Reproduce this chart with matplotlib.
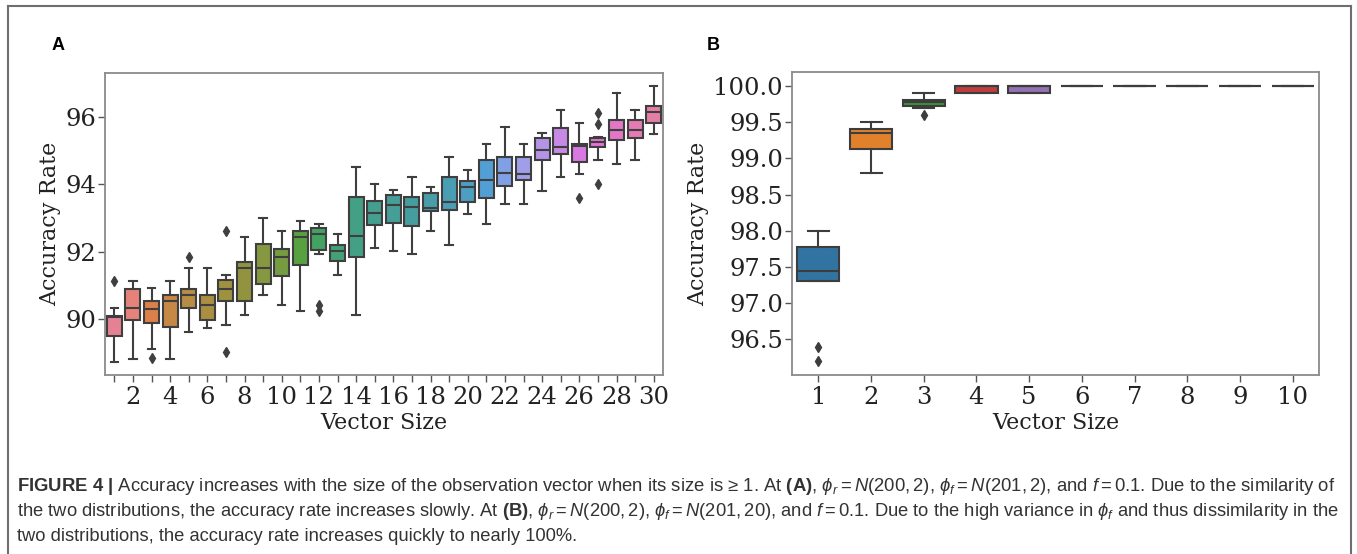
import colorsys
import matplotlib
matplotlib.use("Agg")
import matplotlib.pyplot as plt
import matplotlib.colors as mcolors
from matplotlib.lines import Line2D
import seaborn as sns

# ---------------- data ----------------
# Panel A: vector sizes 1..30
a_sizes = list(range(1, 31))
a_whislo = [88.73, 88.82, 89.12, 88.82, 89.62, 89.72, 89.81, 90.12, 90.71, 90.41,
            90.23, 91.93, 91.32, 90.12, 92.11, 92.01, 91.92, 92.61, 92.21, 93.11,
            92.81, 93.41, 93.41, 93.80, 94.20, 94.30, 94.71, 94.59, 94.71, 95.50]
a_q1 = [89.50, 89.97, 89.89, 89.77, 90.33, 89.96, 90.54, 90.54, 91.03, 91.29,
        91.59, 92.04, 91.73, 91.83, 92.79, 92.85, 92.77, 93.21, 93.23, 93.48,
        93.60, 93.94, 94.14, 94.73, 94.91, 94.65, 95.09, 95.32, 95.38, 95.82]
a_med = [90.07, 90.34, 90.29, 90.54, 90.72, 90.43, 90.88, 91.51, 91.51, 91.83,
         92.42, 92.52, 92.02, 92.47, 93.15, 93.37, 93.33, 93.30, 93.48, 93.92,
         94.12, 94.32, 94.30, 95.03, 95.11, 95.13, 95.26, 95.60, 95.60, 96.14]
a_q3 = [90.09, 90.88, 90.54, 90.71, 90.88, 90.71, 91.16, 91.69, 92.22, 92.08,
        92.61, 92.69, 92.19, 93.62, 93.50, 93.68, 93.63, 93.75, 94.20, 94.09,
        94.71, 94.81, 94.81, 95.37, 95.68, 95.19, 95.36, 95.90, 95.90, 96.31]
a_whishi = [90.32, 91.13, 90.92, 91.13, 91.51, 91.51, 91.32, 92.42, 93.01, 92.61,
            92.91, 92.81, 92.52, 94.51, 94.00, 93.82, 94.22, 93.91, 94.81, 94.41,
            95.20, 95.70, 95.20, 95.52, 96.21, 95.82, 95.40, 96.71, 96.21, 96.90]
a_fliers = [[91.13], [], [88.83], [], [91.83], [], [92.61, 89.01], [], [], [],
            [], [90.42, 90.24], [], [], [], [], [], [], [], [],
            [], [], [], [], [], [93.60], [96.12, 95.80, 94.00], [], [], []]
a_ticklabels = [str(s) if s % 2 == 0 else "" for s in a_sizes]

# Panel B: vector sizes 1..10
b_sizes = list(range(1, 11))
b_whislo = [97.30, 98.80, 99.70, 99.90, 99.90, 100.0, 100.0, 100.0, 100.0, 100.0]
b_q1 = [97.30, 99.13, 99.72, 99.90, 99.90, 100.0, 100.0, 100.0, 100.0, 100.0]
b_med = [97.44, 99.35, 99.77, 100.0, 100.0, 100.0, 100.0, 100.0, 100.0, 100.0]
b_q3 = [97.77, 99.40, 99.81, 100.0, 100.0, 100.0, 100.0, 100.0, 100.0, 100.0]
b_whishi = [98.00, 99.50, 99.90, 100.0, 100.0, 100.0, 100.0, 100.0, 100.0, 100.0]
b_fliers = [[96.40, 96.20], [], [99.60], [], [], [], [], [], [], []]
b_ticklabels = [str(s) for s in b_sizes]

caption_lines = [
    r"$\mathbf{FIGURE\ 4\ |}$ Accuracy increases with the size of the observation vector when its size is ≥ 1. At $\mathbf{(A)}$, "
    r"$\phi_r = N(200, 2)$, $\phi_f = N(201, 2)$, and $f = 0.1$. Due to the similarity of",
    r"the two distributions, the accuracy rate increases slowly. At $\mathbf{(B)}$, $\phi_r = N(200, 2)$, "
    r"$\phi_f = N(201, 20)$, and $f = 0.1$. Due to the high variance in $\phi_f$ and thus dissimilarity in the",
    r"two distributions, the accuracy rate increases quickly to nearly 100%.",
]

# ---------------- style ----------------
plt.rcParams["mathtext.fontset"] = "custom"
plt.rcParams["mathtext.rm"] = "Liberation Sans"
plt.rcParams["mathtext.it"] = "Liberation Sans:italic"
plt.rcParams["mathtext.bf"] = "Liberation Sans:bold"
SERIF = "DejaVu Serif"
SPINE = "#8a8a8a"
TICKSIZE = 17.5


def seaborn_colors(base):
    cols = [sns.desaturate(c, 0.75) for c in base]
    lum = min(colorsys.rgb_to_hls(*c)[1] for c in cols) * 0.6
    return cols, mcolors.rgb2hex((lum, lum, lum))


def draw_panel(ax, whislo, q1, med, q3, whishi, fliers, colors, gray):
    stats = []
    for i in range(len(med)):
        stats.append(dict(whislo=whislo[i], q1=q1[i], med=med[i], q3=q3[i],
                          whishi=whishi[i], fliers=fliers[i]))
    lw = 1.5
    bp = ax.bxp(stats, positions=list(range(len(stats))), widths=0.8,
                patch_artist=True, showfliers=True,
                boxprops=dict(linewidth=lw, edgecolor=gray),
                medianprops=dict(color=gray, linewidth=lw),
                whiskerprops=dict(color=gray, linewidth=lw),
                capprops=dict(color=gray, linewidth=lw),
                flierprops=dict(marker="d", markersize=5, markerfacecolor=gray,
                                markeredgecolor=gray, linestyle="none"))
    for patch, c in zip(bp["boxes"], colors):
        patch.set_facecolor(c)
        patch.set_edgecolor(gray)
    for sp in ax.spines.values():
        sp.set_color(SPINE)
        sp.set_linewidth(1.3)
    ax.tick_params(axis="both", colors="#555555", labelcolor="#222222",
                   labelsize=TICKSIZE, length=5, width=1.0)
    ax.tick_params(axis="y", pad=1.5)
    ax.tick_params(axis="x", pad=3)
    ax.set_xlabel("Vector Size", fontsize=16, fontfamily=SERIF, color="#222222", labelpad=2)
    ax.set_ylabel("Accuracy Rate", fontsize=16, fontfamily=SERIF, color="#222222", labelpad=3)


fig = plt.figure(figsize=(13.57, 5.54), dpi=100)
fig.patch.set_facecolor("white")

# Panel A
axA = fig.add_axes([105 / 1357, 1 - 375 / 554, 558 / 1357, 302 / 554])
colA, grayA = seaborn_colors(sns.husl_palette(len(a_sizes)))
draw_panel(axA, a_whislo, a_q1, a_med, a_q3, a_whishi, a_fliers, colA, grayA)
axA.set_xlim(-0.5, len(a_sizes) - 0.5)
axA.set_ylim(88.34, 97.30)
axA.set_xticks(range(len(a_sizes)))
axA.set_xticklabels(a_ticklabels, fontfamily=SERIF, fontsize=TICKSIZE)
axA.set_yticks([90, 92, 94, 96])
axA.set_yticklabels(["90", "92", "94", "96"], fontfamily=SERIF, fontsize=TICKSIZE)

# Panel B
axB = fig.add_axes([792 / 1357, 1 - 375 / 554, 527 / 1357, 303 / 554])
colB, grayB = seaborn_colors(sns.color_palette("tab10", len(b_sizes)))
draw_panel(axB, b_whislo, b_q1, b_med, b_q3, b_whishi, b_fliers, colB, grayB)
axB.set_xlim(-0.5, len(b_sizes) - 0.5)
axB.set_ylim(96.01, 100.19)
axB.set_xticks(range(len(b_sizes)))
axB.set_xticklabels(b_ticklabels, fontfamily=SERIF, fontsize=TICKSIZE)
btick = [96.5, 97.0, 97.5, 98.0, 98.5, 99.0, 99.5, 100.0]
axB.set_yticks(btick)
axB.set_yticklabels([f"{t:.1f}" for t in btick], fontfamily=SERIF, fontsize=TICKSIZE)

# Panel letters
fig.text(58 / 1357, 1 - 46 / 554, "A", fontsize=13, fontweight="bold",
         fontfamily="Liberation Sans", ha="center", va="center")
fig.text(713 / 1357, 1 - 46 / 554, "B", fontsize=13, fontweight="bold",
         fontfamily="Liberation Sans", ha="center", va="center")

# Outer frame
frame_kw = dict(color="#6e6e6e", linewidth=1.5, transform=fig.transFigure)
fig.add_artist(Line2D([7.5 / 1357, 7.5 / 1357], [0, 1 - 6 / 554], **frame_kw))
fig.add_artist(Line2D([7.5 / 1357, 1351 / 1357], [1 - 6 / 554, 1 - 6 / 554], **frame_kw))
fig.add_artist(Line2D([1351 / 1357, 1351 / 1357], [0, 1 - 6 / 554], **frame_kw))

# Caption
baselines = [491, 516, 541]
targets = [1338 - 17, 1338 - 17, 575 - 17]
texts = []
for line, yb in zip(caption_lines, baselines):
    t = fig.text(17 / 1357, 1 - yb / 554, line, fontsize=11.5,
                 fontfamily="Liberation Sans", color="#333333",
                 ha="left", va="baseline")
    texts.append(t)
fig.canvas.draw()
r = fig.canvas.get_renderer()
for t, tw in zip(texts[:2], targets[:2]):
    w = t.get_window_extent(r).width
    t.set_fontsize(t.get_fontsize() * tw / w)
texts[2].set_fontsize(texts[1].get_fontsize())

fig.savefig("out.png", dpi=100, facecolor="white")
